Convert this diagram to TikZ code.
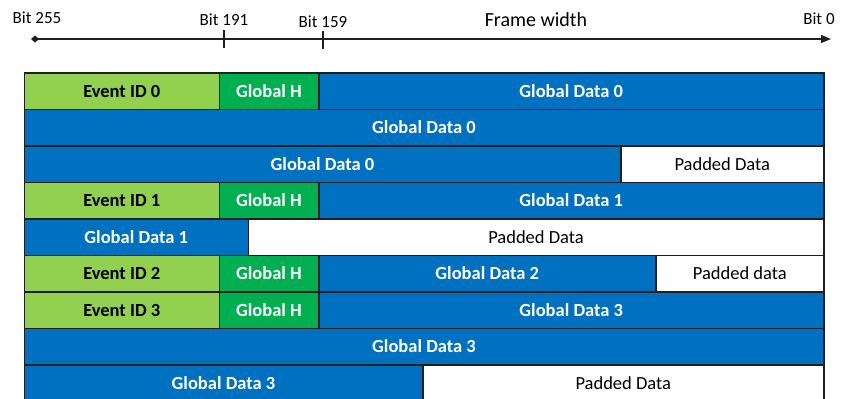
\documentclass[tikz,border=0pt]{standalone}
\usepackage{fontspec}
\setmainfont{Carlito}
\usepackage{tikz}
\usetikzlibrary{arrows.meta}

\definecolor{evgreen}{HTML}{92D050}
\definecolor{hdgreen}{HTML}{00B050}
\definecolor{gdblue}{HTML}{0070C0}
\definecolor{edgegray}{HTML}{1F1F1F}

\begin{document}
\begin{tikzpicture}[x=1pt,y=-1pt]
\useasboundingbox (0,0) rectangle (844,399);

\begin{scope}[every node/.style={inner sep=0pt,font=\fontsize{17}{20}\selectfont}]
    \node (b255) at (37,18) {Bit 255};
    \node (b191) at (224,20) {Bit 191};
    \node (b159) at (323,21.5) {Bit 159};
    \node[font=\fontsize{20}{24}\selectfont] (fw) at (536,20) {Frame width};
    \node (b0) at (819,19) {Bit 0};
\end{scope}

\coordinate (axl) at (31,39);
\coordinate (axr) at (831,39);
\coordinate (t191a) at (224,30);
\coordinate (t191b) at (224,48);
\coordinate (t159a) at (323,31);
\coordinate (t159b) at (323,49);

\begin{scope}[draw=edgegray]
    \draw[line width=1.3pt,{Diamond[length=8pt,width=7pt]}-{Triangle[length=10pt,width=8pt]}] (axl) -- (axr);
    \draw[line width=2pt] (t191a) -- (t191b);
    \draw[line width=2pt] (t159a) -- (t159b);
\end{scope}

\begin{scope}[every node/.style={draw=edgegray,line width=1.5pt,inner sep=0pt,
                                 minimum height=36.5pt,anchor=north west,
                                 font=\bfseries\fontsize{18.5}{22}\selectfont}]
    % event header rows
    \node[fill=evgreen,minimum width=195pt] (ev0) at (23.5,72) {Event ID 0};
    \node[fill=hdgreen,text=white,minimum width=99.5pt] (gh0) at (218.5,72) {Global H};
    \node[fill=gdblue,text=white,minimum width=505pt] (gd0a) at (318,72) {Global Data 0};
    \node[fill=gdblue,text=white,minimum width=799.5pt] (gd0b) at (23.5,108.5) {Global Data 0};
    \node[fill=gdblue,text=white,minimum width=596.5pt] (gd0c) at (23.5,145) {Global Data 0};
    \node[fill=white,font=\fontsize{18.5}{22}\selectfont,minimum width=203pt] (pd0) at (620,145) {Padded Data};

    \node[fill=evgreen,minimum width=195pt] (ev1) at (23.5,181.5) {Event ID 1};
    \node[fill=hdgreen,text=white,minimum width=99.5pt] (gh1) at (218.5,181.5) {Global H};
    \node[fill=gdblue,text=white,minimum width=505pt] (gd1a) at (318,181.5) {Global Data 1};
    \node[fill=gdblue,text=white,minimum width=224pt] (gd1b) at (23.5,218) {Global Data 1};
    \node[fill=white,font=\fontsize{18.5}{22}\selectfont,minimum width=575.5pt] (pd1) at (247.5,218) {Padded Data};

    \node[fill=evgreen,minimum width=195pt] (ev2) at (23.5,254.5) {Event ID 2};
    \node[fill=hdgreen,text=white,minimum width=99.5pt] (gh2) at (218.5,254.5) {Global H};
    \node[fill=gdblue,text=white,minimum width=337pt] (gd2) at (318,254.5) {Global Data 2};
    \node[fill=white,font=\fontsize{18.5}{22}\selectfont,minimum width=168pt] (pd2) at (655,254.5) {Padded data};

    \node[fill=evgreen,minimum width=195pt] (ev3) at (23.5,291) {Event ID 3};
    \node[fill=hdgreen,text=white,minimum width=99.5pt] (gh3) at (218.5,291) {Global H};
    \node[fill=gdblue,text=white,minimum width=505pt] (gd3a) at (318,291) {Global Data 3};
    \node[fill=gdblue,text=white,minimum width=799.5pt] (gd3b) at (23.5,327.5) {Global Data 3};
    \node[fill=gdblue,text=white,minimum width=398.5pt] (gd3c) at (23.5,364) {Global Data 3};
    \node[fill=white,font=\fontsize{18.5}{22}\selectfont,minimum width=401pt] (pd3) at (422,364) {Padded Data};
\end{scope}
\end{tikzpicture}
\end{document}
